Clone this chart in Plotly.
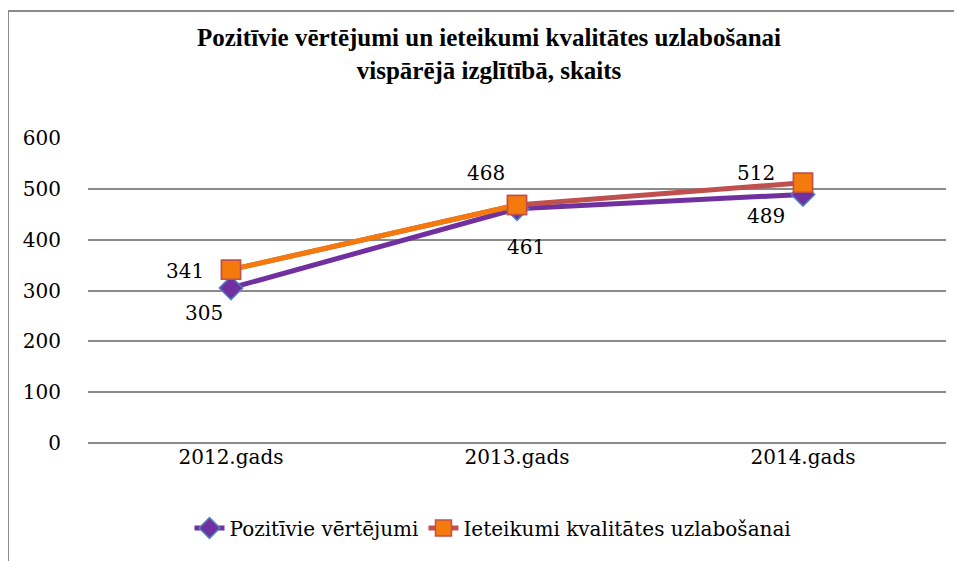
import plotly.graph_objects as go

categories = ["2012.gads", "2013.gads", "2014.gads"]
pozitivie = [305, 461, 489]
ieteikumi = [341, 468, 512]
series_names = ["Pozitīvie vērtējumi", "Ieteikumi kvalitātes uzlabošanai"]
y_ticks = [0, 100, 200, 300, 400, 500, 600]

FONT = "DejaVu Serif"
TITLE_FONT = "Liberation Serif"
PURPLE = "#7030A0"
BLUE = "#4F81BD"
RED = "#C0504D"
ORANGE = "#F57A0D"
GRID = "#8a8a8a"

# plot area geometry (figure pixels)
L, R, T, B = 80, 24, 130, 126
PW, PH = 962 - L - R, 561 - T - B

fig = go.Figure()

fig.add_trace(go.Scatter(
    x=categories, y=pozitivie, name=series_names[0], mode="lines+markers",
    line=dict(color=PURPLE, width=5),
    marker=dict(symbol="diamond", size=18, color=PURPLE, line=dict(color=BLUE, width=1.5)),
))
fig.add_trace(go.Scatter(
    x=categories, y=ieteikumi, name=series_names[1], mode="lines+markers",
    line=dict(color=RED, width=5),
    marker=dict(symbol="square", size=19, color=ORANGE, line=dict(color=RED, width=1.5)),
))
fig.add_trace(go.Scatter(
    x=categories[:2], y=ieteikumi[:2], mode="lines", showlegend=False, hoverinfo="skip",
    line=dict(color=ORANGE, width=5),
))
fig.add_trace(go.Scatter(
    x=categories, y=ieteikumi, mode="markers", showlegend=False, hoverinfo="skip",
    marker=dict(symbol="square", size=19, color=ORANGE, line=dict(color=RED, width=1.5)),
))

# data labels (offsets in pixels from the data point)
poz_shift = [(-27, -25), (9, -38), (-37, -22)]
iet_shift = [(-46, -1), (-31, 32), (-47, 10)]
for cat, v, (dx, dy) in zip(categories, pozitivie, poz_shift):
    fig.add_annotation(x=cat, y=v, text=str(v), showarrow=False, xshift=dx, yshift=dy,
                       font=dict(family=FONT, size=20, color="black"))
for cat, v, (dx, dy) in zip(categories, ieteikumi, iet_shift):
    fig.add_annotation(x=cat, y=v, text=str(v), showarrow=False, xshift=dx, yshift=dy,
                       font=dict(family=FONT, size=20, color="black"))

# outer chart border (only top and left edges are visible)
fig.add_shape(type="rect", xref="paper", yref="paper",
              x0=(0 - L) / PW, x1=1.2, y0=-0.6, y1=(561 - B - 3) / PH,
              line=dict(color=GRID, width=2))

fig.update_layout(
    width=962, height=561,
    margin=dict(l=L, r=R, t=T, b=B),
    paper_bgcolor="white", plot_bgcolor="white",
    title=dict(
        text="<b>Pozitīvie vērtējumi un ieteikumi kvalitātes uzlabošanai<br>vispārējā izglītībā, skaits</b>",
        x=0.5, xanchor="center", y=1 - 38 / 561, yanchor="top",
        font=dict(family=TITLE_FONT, size=25, color="black"),
    ),
    xaxis=dict(showgrid=False, showline=False, ticks="", range=[-0.5, 2.5],
               tickfont=dict(family=FONT, size=20, color="black")),
    yaxis=dict(range=[0, 600], tickvals=y_ticks, showgrid=True, gridcolor=GRID, gridwidth=1.5,
               zeroline=True, zerolinecolor=GRID, zerolinewidth=1.5,
               showline=False, ticks="outside", ticklen=22, tickcolor="rgba(0,0,0,0)",
               tickfont=dict(family=FONT, size=20, color="black")),
    legend=dict(orientation="h", x=(485 - L) / PW, xanchor="center", y=-(520 - (561 - B)) / PH,
                yanchor="middle",
                font=dict(family=FONT, size=20, color="black")),
    showlegend=True,
)

fig.write_html("out.html")
